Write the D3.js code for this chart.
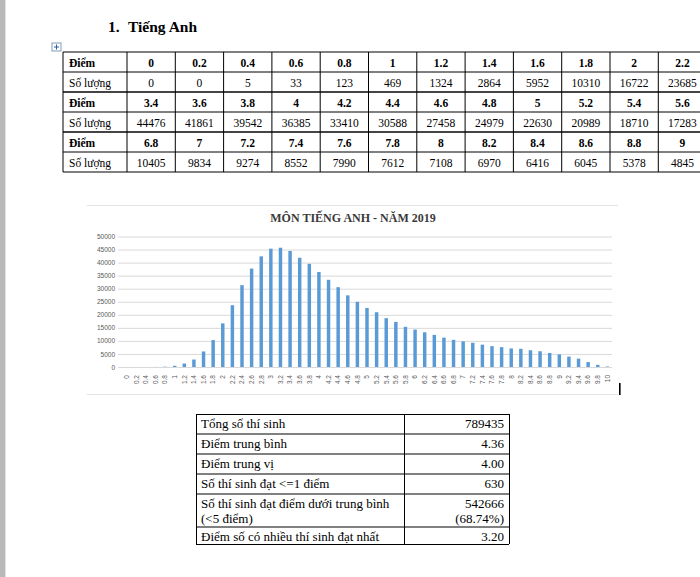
<!DOCTYPE html>
<html>
<head>
<meta charset="utf-8">
<script src="https://cdn.jsdelivr.net/npm/d3@7"></script>
<style>
  body { margin: 0; background: #fff; overflow: hidden; }
  svg { display: block; }
</style>
</head>
<body>
<div id="page"></div>
<script>
// scores 0..10 step 0.2, and number of students for each score
var scores = ["0","0.2","0.4","0.6","0.8","1","1.2","1.4","1.6","1.8","2","2.2","2.4","2.6","2.8","3","3.2",
  "3.4","3.6","3.8","4","4.2","4.4","4.6","4.8","5","5.2","5.4","5.6","5.8","6","6.2","6.4","6.6",
  "6.8","7","7.2","7.4","7.6","7.8","8","8.2","8.4","8.6","8.8","9","9.2","9.4","9.6","9.8","10"];
var counts = [0,0,5,33,123,469,1324,2864,5952,10310,16722,23685,31350,37700,42400,45330,45700,
  44476,41861,39542,36385,33410,30588,27458,24979,22630,20989,18710,17283,15400,14350,13300,12300,11250,
  10405,9834,9274,8552,7990,7612,7108,6970,6416,6045,5378,4845,4000,3200,1900,830,198];
var yTicks = [0,5000,10000,15000,20000,25000,30000,35000,40000,45000,50000];

var statLabels = ["Tổng số thí sinh", "Điểm trung bình", "Điểm trung vị", "Số thí sinh đạt <=1 điểm",
  "Số thí sinh đạt điểm dưới trung bình\n(<5 điểm)", "Điểm số có nhiều thí sinh đạt nhất"];
var statValues = ["789435", "4.36", "4.00", "630", "542666\n(68.74%)", "3.20"];

var width = 700, height = 577;
var serif = "'Liberation Serif', 'Times New Roman', serif";
var sans = "'Liberation Sans', Arial, sans-serif";

var svg = d3.select("#page").append("svg")
  .attr("width", width)
  .attr("height", height);

// word page edge
svg.append("rect").attr("x", 0).attr("y", 0).attr("width", 5).attr("height", height).attr("fill", "#b9b9b9");
svg.append("rect").attr("x", 5).attr("y", 0).attr("width", 1).attr("height", height).attr("fill", "#e2e2e2");

// heading
svg.append("text").attr("x", 108).attr("y", 32)
  .attr("font-family", serif).attr("font-size", 15.5).attr("font-weight", "bold")
  .text("1.");
svg.append("text").attr("x", 128).attr("y", 32)
  .attr("font-family", serif).attr("font-size", 15.5).attr("font-weight", "bold")
  .text("Tiếng Anh");

// table move handle
var handle = svg.append("g").attr("transform", "translate(52,43)");
handle.append("rect").attr("width", 9).attr("height", 8).attr("fill", "#fff").attr("stroke", "#7f9db9");
handle.append("path").attr("d", "M4.5,1.5V6.5M2,4H7").attr("stroke", "#2a5ca8").attr("stroke-width", 1);

// ---- top table: 3 groups of 17 scores (the page only shows the first columns)
var perRow = 17;
var tx0 = 63, labelW = 64, colW = 48.3, rowH = 20, ty0 = 52;
var table = svg.append("g");
var groups = d3.range(3).map(g => ({
  s: scores.slice(g * perRow, (g + 1) * perRow),
  c: counts.slice(g * perRow, (g + 1) * perRow)
}));
var rows = [];
groups.forEach(g => {
  rows.push({label: "Điểm", vals: g.s, bold: true});
  rows.push({label: "Số lượng", vals: g.c.map(String), bold: false});
});
var tableRight = tx0 + labelW + perRow * colW;
var colX = j => tx0 + labelW + j * colW;

rows.forEach((r, i) => {
  var y = ty0 + i * rowH;
  table.append("text").attr("x", tx0 + 6).attr("y", y + 14.5)
    .attr("font-family", serif).attr("font-size", 11.5)
    .attr("font-weight", r.bold ? "bold" : "normal")
    .text(r.label);
  table.selectAll(null).data(r.vals.filter((d, j) => colX(j) + colW / 2 + 16 < width)).join("text")
    .attr("x", (d, j) => colX(j) + colW / 2)
    .attr("y", y + 14.5)
    .attr("text-anchor", "middle")
    .attr("font-family", serif).attr("font-size", 11.5)
    .attr("font-weight", r.bold ? "bold" : "normal")
    .text(d => d);
});
// horizontal lines
d3.range(rows.length + 1).forEach(i => {
  var inner = i % 2 === 0 && i > 0 && i < rows.length;
  table.append("line")
    .attr("x1", tx0).attr("x2", tableRight)
    .attr("y1", ty0 + i * rowH).attr("y2", ty0 + i * rowH)
    .attr("stroke", inner ? "#444" : "#000")
    .attr("stroke-width", inner ? 2 : 1);
});
// vertical lines
[tx0].concat(d3.range(perRow + 1).map(colX)).forEach(x => {
  table.append("line")
    .attr("x1", x).attr("x2", x)
    .attr("y1", ty0).attr("y2", ty0 + rows.length * rowH)
    .attr("stroke", "#000").attr("stroke-width", 1);
});

// ---- chart
var chart = svg.append("g");
chart.append("line").attr("x1", 87).attr("x2", 618).attr("y1", 205.5).attr("y2", 205.5).attr("stroke", "#e3e3e3");
chart.append("line").attr("x1", 87).attr("x2", 618).attr("y1", 394.5).attr("y2", 394.5).attr("stroke", "#e3e3e3");

chart.append("text").attr("x", 353).attr("y", 222)
  .attr("text-anchor", "middle")
  .attr("font-family", serif).attr("font-size", 12).attr("font-weight", "bold")
  .attr("fill", "#3a3a3a")
  .text("MÔN TIẾNG ANH - NĂM 2019");

var x = d3.scaleBand().domain(scores).range([122, 612]).paddingInner(0.64).paddingOuter(0.3);
var y = d3.scaleLinear().domain([0, 50000]).range([367, 236.5]);

var yAxis = chart.append("g")
  .attr("transform", "translate(118,0)")
  .call(d3.axisLeft(y).tickValues(yTicks).tickFormat(d3.format("d")).tickSize(-(612 - 118)).tickPadding(3));
yAxis.select(".domain").remove();
yAxis.selectAll(".tick line").attr("stroke", "#d9d9d9");
yAxis.selectAll(".tick text")
  .attr("fill", "#595959").attr("font-family", sans).attr("font-size", 6.5);

chart.append("g").selectAll("rect").data(counts).join("rect")
  .attr("x", (d, i) => x(scores[i]))
  .attr("width", x.bandwidth())
  .attr("y", d => y(d))
  .attr("height", d => y(0) - y(d))
  .attr("fill", "#5b9bd5");

var xAxis = chart.append("g")
  .attr("transform", "translate(0,367)")
  .call(d3.axisBottom(x).tickSize(0).tickPadding(0));
xAxis.select(".domain").remove();
xAxis.selectAll(".tick text")
  .attr("fill", "#595959").attr("font-family", sans).attr("font-size", 6.5)
  .attr("text-anchor", "end")
  .attr("transform", "translate(0,8) rotate(-90)")
  .attr("dy", "0.35em")
  .attr("y", 0).attr("x", 0);

// text cursor
svg.append("rect").attr("x", 619).attr("y", 383).attr("width", 1.6).attr("height", 12).attr("fill", "#000");

// ---- stats table
var sx0 = 196, sx1 = 404, sx2 = 509;
var sRowH = [19.5, 20, 20, 20, 33, 17.5];
var sy = [414];
sRowH.forEach((h, i) => sy.push(sy[i] + h));
var stats = svg.append("g");
statLabels.forEach((lab, i) => {
  var top = sy[i];
  lab.split("\n").forEach((line, k) => {
    stats.append("text").attr("x", sx0 + 5).attr("y", top + 14 + k * 15)
      .attr("font-family", serif).attr("font-size", 13).text(line);
  });
  statValues[i].split("\n").forEach((line, k) => {
    stats.append("text").attr("x", sx2 - 5).attr("y", top + 14 + k * 15)
      .attr("text-anchor", "end")
      .attr("font-family", serif).attr("font-size", 13).text(line);
  });
});
sy.forEach(v => {
  stats.append("line").attr("x1", sx0).attr("x2", sx2).attr("y1", v + 0.5).attr("y2", v + 0.5).attr("stroke", "#000");
});
[sx0, sx1, sx2].forEach(v => {
  stats.append("line").attr("x1", v + 0.5).attr("x2", v + 0.5).attr("y1", sy[0]).attr("y2", sy[sy.length - 1]).attr("stroke", "#000");
});
</script>
</body>
</html>
